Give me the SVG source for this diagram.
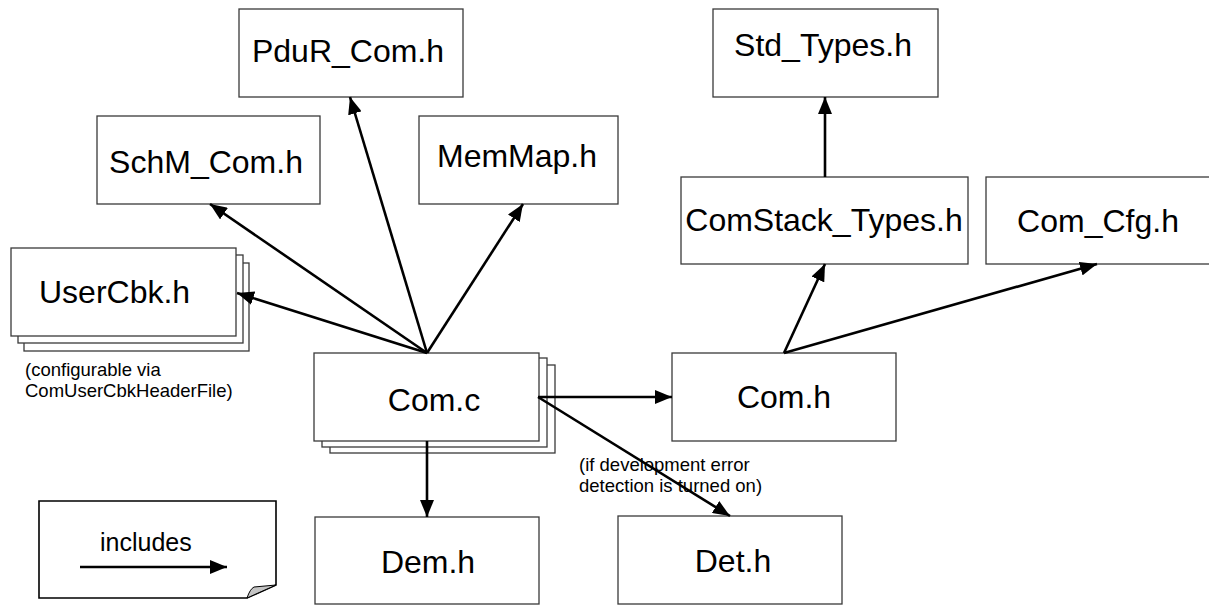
<svg xmlns="http://www.w3.org/2000/svg" width="1209" height="606" viewBox="0 0 1209 606">
  <style>
    .box { fill: #ffffff; stroke: #3a3a3a; stroke-width: 1.3; }
    .lbl { font-family: "Liberation Sans", Arial, sans-serif; font-size: 32px; fill: #000; text-anchor: middle; }
    .note { font-family: "Liberation Sans", Arial, sans-serif; font-size: 18.5px; fill: #000; }
    .edge { fill: none; stroke: #000; stroke-width: 2.6; marker-end: url(#head); }
  </style>
  <defs>
    <marker id="head" markerUnits="userSpaceOnUse" markerWidth="17" markerHeight="14" refX="17" refY="7" orient="auto">
      <path d="M0,0 L17,7 L0,14 Z" fill="#000"/>
    </marker>
  </defs>
  <rect width="1209" height="606" fill="#ffffff"/>

  <!-- header files -->
  <g id="pdur_com_h">
    <rect class="box" x="239" y="9" width="224" height="88"/>
    <text class="lbl" x="348" y="62">PduR_Com.h</text>
  </g>
  <g id="schm_com_h">
    <rect class="box" x="97" y="116" width="223" height="88"/>
    <text class="lbl" x="206" y="173">SchM_Com.h</text>
  </g>
  <g id="memmap_h">
    <rect class="box" x="419" y="116" width="199" height="88"/>
    <text class="lbl" x="517" y="167">MemMap.h</text>
  </g>
  <g id="std_types_h">
    <rect class="box" x="713" y="9" width="225" height="88"/>
    <text class="lbl" x="823" y="56">Std_Types.h</text>
  </g>
  <g id="comstack_types_h">
    <rect class="box" x="681" y="177" width="287" height="87"/>
    <text class="lbl" x="824" y="231">ComStack_Types.h</text>
  </g>
  <g id="com_cfg_h">
    <rect class="box" x="986" y="177" width="228" height="87"/>
    <text class="lbl" x="1098" y="232">Com_Cfg.h</text>
  </g>
  <g id="usercbk_h">
    <rect class="box" x="24" y="263" width="225" height="88"/>
    <rect class="box" x="18" y="255" width="225" height="88"/>
    <rect class="box" x="11" y="248" width="225" height="88"/>
    <text class="lbl" x="39" y="303" style="text-anchor:start">UserCbk.h</text>
    <text class="note" x="25" y="376">(configurable via</text>
    <text class="note" x="25" y="397">ComUserCbkHeaderFile)</text>
  </g>
  <g id="com_c">
    <rect class="box" x="330" y="365" width="225" height="88"/>
    <rect class="box" x="322" y="358" width="225" height="89"/>
    <rect class="box" x="314" y="353" width="225" height="88"/>
    <text class="lbl" x="434" y="411">Com.c</text>
  </g>
  <g id="com_h">
    <rect class="box" x="672" y="353" width="224" height="88"/>
    <text class="lbl" x="784" y="408">Com.h</text>
  </g>
  <g id="dem_h">
    <rect class="box" x="315" y="517" width="224" height="87"/>
    <text class="lbl" x="428" y="573">Dem.h</text>
  </g>
  <g id="det_h">
    <rect class="box" x="618" y="516" width="224" height="88"/>
    <text class="lbl" x="733" y="572">Det.h</text>
  </g>

  <!-- include relations -->
  <g id="connectors">
    <line class="edge" x1="427" y1="353" x2="237" y2="293"/>
    <line class="edge" x1="427" y1="353" x2="210" y2="204"/>
    <line class="edge" x1="427" y1="353" x2="350" y2="97"/>
    <line class="edge" x1="427" y1="353" x2="523" y2="204"/>
    <line class="edge" x1="427" y1="441" x2="427" y2="517"/>
    <line class="edge" x1="538" y1="397" x2="672" y2="397"/>
    <line class="edge" x1="538" y1="397" x2="730" y2="516"/>
    <line class="edge" x1="784" y1="353" x2="825" y2="264"/>
    <line class="edge" x1="784" y1="353" x2="1097" y2="264"/>
    <line class="edge" x1="825" y1="177" x2="825" y2="97"/>
    <text class="note" x="579" y="471">(if development error</text>
    <text class="note" x="579" y="492">detection is turned on)</text>
  </g>

  <!-- legend note -->
  <g id="legend">
    <path d="M39,501 H276 V585 L247,598 H39 Z" fill="#fff" stroke="#000" stroke-width="1.6"/>
    <path d="M247,598 Q250,589 254,587 L276,585 Z" fill="#c4c4c4" stroke="#000" stroke-width="1"/>
    <text class="note" x="100" y="551" style="font-size:25px">includes</text>
    <line class="edge" x1="80" y1="567" x2="227" y2="567"/>
  </g>
</svg>
